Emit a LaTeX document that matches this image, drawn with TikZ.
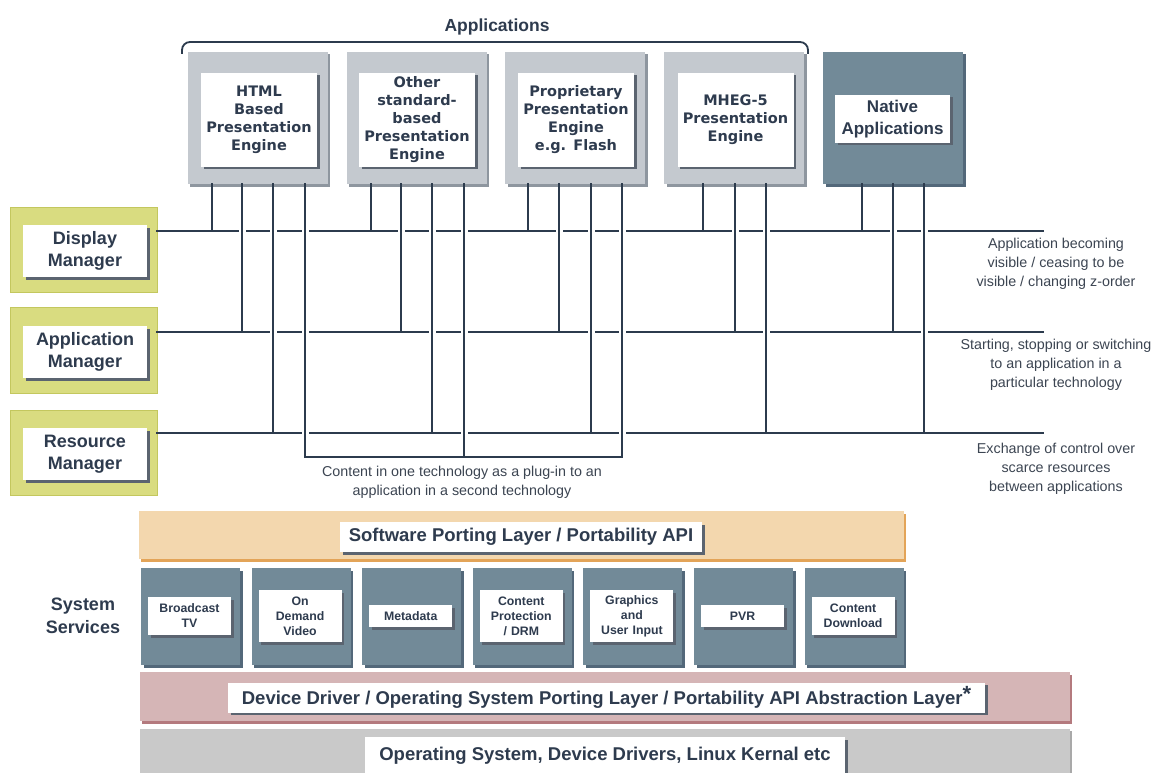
\documentclass[tikz,border=0pt]{standalone}
\usepackage{fontspec}
\setmainfont{Liberation Sans}
\newfontfamily\verd{DejaVu Sans}
\usetikzlibrary{calc}
\definecolor{ink}{HTML}{2E3B4E}
\definecolor{notec}{HTML}{3C4552}
\definecolor{linec}{HTML}{2C3B4D}
\definecolor{appgray}{HTML}{C4C9CF}
\definecolor{appedge}{HTML}{8E969F}
\definecolor{slate}{HTML}{728A98}
\definecolor{slateedge}{HTML}{53687A}
\definecolor{mgr}{HTML}{D9DC80}
\definecolor{mgredge}{HTML}{C3C75E}
\definecolor{splc}{HTML}{F3D7AE}
\definecolor{splEdge}{HTML}{E3A458}
\definecolor{ddl}{HTML}{D5B5B6}
\definecolor{ddlEdge}{HTML}{B47A7E}
\definecolor{osg}{HTML}{C9C9C9}
\definecolor{osgEdge}{HTML}{A9A9A9}
\definecolor{shade}{HTML}{5B6470}
\tikzset{
  edgebox/.style 2 args={rectangle, inner sep=0pt, fill=#1,
     preaction={fill=#2, transform canvas={xshift=2.5pt,yshift=-2.5pt}}},
  appbox/.style={edgebox={appgray}{appedge}, minimum width=140pt, minimum height=132pt},
  nativebox/.style={edgebox={slate}{slateedge}, minimum width=140pt, minimum height=132pt},
  svcbox/.style={edgebox={slate}{slateedge}, minimum width=99pt, minimum height=97pt},
  mgrbox/.style={rectangle, inner sep=0pt, fill=mgr, draw=mgredge, line width=0.8pt, minimum width=147pt},
  whitelabel/.style={rectangle, fill=white, inner sep=0pt, align=center, text=ink,
     preaction={fill=shade, transform canvas={xshift=2.5pt,yshift=-2.5pt}}},
  applabel/.style={whitelabel, text width=116pt, minimum height=94pt,
     font=\verd\bfseries\fontsize{14.5}{18}\selectfont},
  mgrlabel/.style={whitelabel, text width=124pt, minimum height=52pt,
     font=\bfseries\fontsize{18}{22.5}\selectfont},
  svclabel/.style={whitelabel, text width=83pt,
     font=\bfseries\fontsize{12.3}{15}\selectfont},
  barlabel/.style={whitelabel, minimum height=30pt, inner xsep=0pt,
     font=\bfseries\fontsize{18.5}{22}\selectfont},
  note/.style={align=center, text=notec, inner sep=0pt,
     font=\fontsize{14.3}{18.8}\selectfont},
  bus/.style={draw=linec, line width=2pt, line cap=rect},
  halo/.style={draw=white, line width=7pt, line cap=butt},
}
\begin{document}
\begin{tikzpicture}[x=1pt,y=-1pt]
\useasboundingbox (0,0) rectangle (1162,773);
\clip (0,0) rectangle (1162,773);
\fill[white] (0,0) rectangle (1162,773);

% Applications brace
\node[text=ink, font=\bfseries\fontsize{17.5}{20}\selectfont] (apps) at (497,27) {Applications};
\draw[draw=linec, line width=1.8pt, rounded corners=8pt] (182,54) -- (182,42) -- (808,42) -- (808,54);

% application boxes
\node[appbox] (appA) at (257.5,118) {};
\node[appbox] (appB) at (416.5,118) {};
\node[appbox] (appC) at (575,118) {};
\node[appbox] (appD) at (734,118) {};
\node[nativebox] (appE) at (893,118) {};
\node[applabel] (appAl) at (259,120) {HTML\\Based\\Presentation\\Engine};
\node[applabel] (appBl) at (417,120) {Other\\standard-\\based\\Presentation\\Engine};
\node[applabel] (appCl) at (576,120) {Proprietary\\Presentation\\Engine\\e.g. Flash};
\node[applabel] (appDl) at (735.5,120) {MHEG-5\\Presentation\\Engine\\[1.2em]};
\node[whitelabel, text width=115pt, minimum height=48pt,
      font=\bfseries\fontsize{17}{22}\selectfont] (appEl) at (892.5,119) {Native\\Applications};

% managers
\node[mgrbox, minimum height=85pt] (dm) at (83.5,249.5) {};
\node[mgrbox, minimum height=86pt] (am) at (83.5,350) {};
\node[mgrbox, minimum height=85pt] (rm) at (83.5,452.5) {};
\node[mgrlabel] (dml) at (85,251) {Display\\Manager};
\node[mgrlabel] (aml) at (85,352) {Application\\Manager};
\node[mgrlabel] (rml) at (85,454) {Resource\\Manager};

% bus coordinates
\coordinate (dbus) at (157,231);
\coordinate (abus) at (157,332);
\coordinate (rbus) at (157,433);
\coordinate (pbus) at (305,457);
\coordinate (dEnd) at (1043,231);
\coordinate (aEnd) at (1043,332);
\coordinate (rEnd) at (1043,433);

\draw[bus] (dm.east |- dbus) -- (dEnd);
\draw[bus] (am.east |- abus) -- (aEnd);
\draw[bus] (rm.east |- rbus) -- (rEnd);

\coordinate (pA) at ($(appA.south)+(47.5,0)$);
\coordinate (pC) at ($(appC.south)+(47,0)$);
\draw[bus] (pA |- pbus) -- (pC |- pbus);

\foreach \nn/\oo/\bb in {appA/-45.5/dbus, appA/-15.5/abus, appA/15.5/rbus, appA/47.5/pbus,
  appB/-45.5/dbus, appB/-15.5/abus, appB/15.5/rbus, appB/47.5/pbus,
  appC/-47/dbus, appC/-16/abus, appC/16/rbus, appC/47/pbus,
  appD/-31/dbus, appD/1/abus, appD/32/rbus,
  appE/-31/dbus, appE/0/abus, appE/31/rbus} {
  \coordinate (t) at ($(\nn.south)+(\oo,0)$);
  \draw[halo] ($(t)+(0,5)$) -- ($(t |- \bb)+(0,-5)$);
  \draw[bus] (t) -- (t |- \bb);
}

% notes
\node[note] (dnote) at (1056,264) {Application becoming\\visible / ceasing to be\\visible / changing z-order};
\node[note] (anote) at (1056,365) {Starting, stopping or switching\\to an application in a\\particular technology};
\node[note] (rnote) at (1056,468.5) {Exchange of control over\\scarce resources\\between applications};
\node[note] (pnote) at (462,482) {Content in one technology as a plug-in to an\\application in a second technology};

% software porting layer
\node[rectangle, inner sep=0pt, fill=splc, minimum width=765pt, minimum height=48pt,
      preaction={fill=splEdge, transform canvas={xshift=2pt,yshift=-2.5pt}}] (spl) at (521.5,535) {};
\node[barlabel, minimum width=362pt] (spll) at (521,537) {Software Porting Layer / Portability API};

% system services
\node[text=ink, align=center, inner sep=0pt, font=\bfseries\fontsize{18}{23}\selectfont] (sys) at (83,616) {System\\Services};
\node[svcbox] (s1) at (190.5,616.5) {};
\node[svcbox] (s2) at (301.1,616.5) {};
\node[svcbox] (s3) at (411.7,616.5) {};
\node[svcbox] (s4) at (522.3,616.5) {};
\node[svcbox] (s5) at (632.9,616.5) {};
\node[svcbox] (s6) at (743.5,616.5) {};
\node[svcbox] (s7) at (854.1,616.5) {};
\node[svclabel, minimum height=38pt] (s1l) at (189.5,616) {Broadcast\\TV};
\node[svclabel, minimum height=52pt] (s2l) at (300.1,616) {On\\Demand\\Video};
\node[svclabel, minimum height=22pt] (s3l) at (410.7,616) {Metadata};
\node[svclabel, minimum height=52pt] (s4l) at (521.3,616) {Content\\Protection\\/ DRM};
\node[svclabel, minimum height=52pt] (s5l) at (631.9,616) {Graphics\\and\\User Input};
\node[svclabel, minimum height=22pt] (s6l) at (742.5,616) {PVR};
\node[svclabel, minimum height=38pt] (s7l) at (853.1,616) {Content\\Download};

% device driver layer
\node[rectangle, inner sep=0pt, fill=ddl, minimum width=930pt, minimum height=49pt,
      preaction={fill=ddlEdge, transform canvas={xshift=2pt,yshift=-3pt}}] (ddlbar) at (605,696) {};
\node[barlabel, minimum width=757pt] (ddll) at (606.5,697.5) {Device Driver / Operating System Porting Layer / Portability API Abstraction Layer\raisebox{3.5pt}{\fontsize{22}{22}\selectfont *}};

% OS layer
\node[rectangle, inner sep=0pt, fill=osg, minimum width=930pt, minimum height=50pt,
      preaction={fill=osgEdge, transform canvas={xshift=2pt,yshift=-2pt}}] (osbar) at (605,754) {};
\node[barlabel, minimum width=480pt, minimum height=38pt] (osl) at (605,756) {Operating System, Device Drivers, Linux Kernal etc};
\end{tikzpicture}
\end{document}
